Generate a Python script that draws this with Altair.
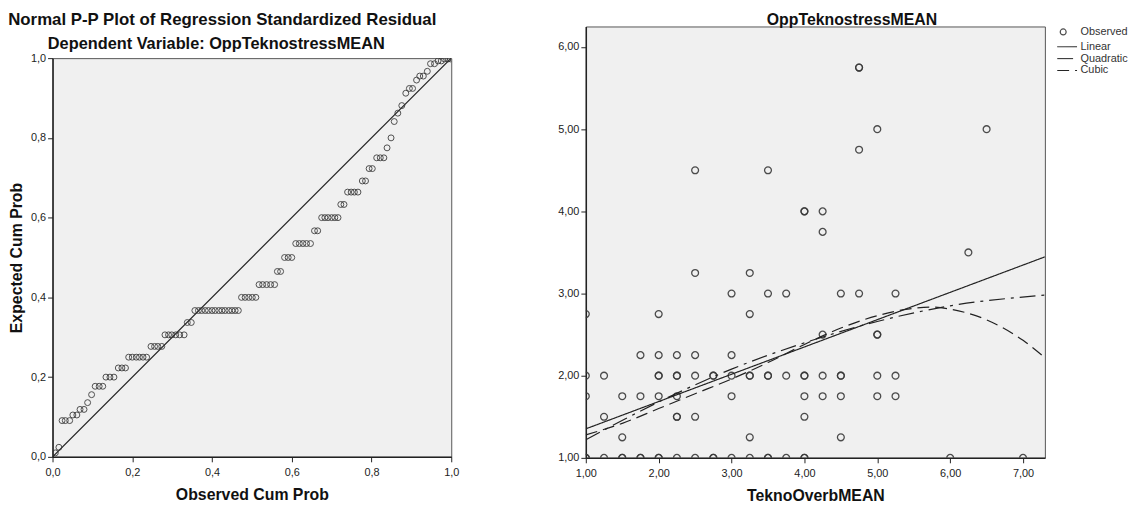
import altair as alt
import pandas as pd

FONT = "Liberation Sans"

# ---------------- Left panel: Normal P-P plot ----------------
pp_observed = [
    0.007, 0.016,
    0.024, 0.032, 0.043,
    0.051, 0.061,
    0.069, 0.079,
    0.088, 0.098,
    0.107, 0.117, 0.126,
    0.134, 0.144, 0.154,
    0.165, 0.174, 0.183,
    0.191, 0.200, 0.210, 0.218, 0.227, 0.236,
    0.247, 0.256, 0.264, 0.274,
    0.282, 0.291, 0.299, 0.309, 0.319, 0.330,
    0.338, 0.348,
    0.357, 0.366, 0.374, 0.383, 0.391, 0.400, 0.408, 0.417, 0.425, 0.433, 0.442, 0.450, 0.458, 0.466,
    0.474, 0.483, 0.492, 0.501, 0.510,
    0.518, 0.527, 0.537, 0.547, 0.557,
    0.564, 0.572,
    0.582, 0.591, 0.600,
    0.610, 0.619, 0.628, 0.637, 0.647,
    0.657, 0.665,
    0.675, 0.683, 0.691, 0.700, 0.708, 0.716,
    0.723, 0.731,
    0.740, 0.749, 0.757, 0.766,
    0.777, 0.785,
    0.794, 0.802,
    0.813, 0.822, 0.831,
    0.839, 0.849, 0.857, 0.866, 0.876, 0.886,
    0.895, 0.903,
    0.913,
    0.921, 0.930,
    0.940,
    0.948, 0.958,
    0.967, 0.975,
    0.983, 0.992, 0.998,
]
pp_expected = [
    0.010, 0.024,
    0.091, 0.091, 0.091,
    0.105, 0.105,
    0.119, 0.119,
    0.136, 0.156,
    0.177, 0.177, 0.177,
    0.200, 0.200, 0.200,
    0.223, 0.223, 0.223,
    0.250, 0.250, 0.250, 0.250, 0.250, 0.250,
    0.277, 0.277, 0.277, 0.277,
    0.306, 0.306, 0.306, 0.306, 0.306, 0.306,
    0.337, 0.337,
    0.367, 0.367, 0.367, 0.367, 0.367, 0.367, 0.367, 0.367, 0.367, 0.367, 0.367, 0.367, 0.367, 0.367,
    0.400, 0.400, 0.400, 0.400, 0.400,
    0.432, 0.432, 0.432, 0.432, 0.432,
    0.465, 0.465,
    0.500, 0.500, 0.500,
    0.535, 0.535, 0.535, 0.535, 0.535,
    0.567, 0.567,
    0.600, 0.600, 0.600, 0.600, 0.600, 0.600,
    0.633, 0.633,
    0.664, 0.664, 0.664, 0.664,
    0.692, 0.692,
    0.723, 0.723,
    0.750, 0.750, 0.750,
    0.775, 0.800, 0.841, 0.862, 0.881, 0.912,
    0.924, 0.924,
    0.945,
    0.955, 0.955,
    0.967,
    0.986, 0.986,
    0.993, 0.993,
    0.998, 0.998, 0.998,
]
diag_x = [0.0, 1.0]
diag_y = [0.0, 1.0]
pp_ticks = [0.0, 0.2, 0.4, 0.6, 0.8, 1.0]

# ---------------- Right panel: curve estimation ----------------
obs_x = (
    [1.0, 1.0, 1.25, 1.5, 1.5, 1.75, 1.75, 2.0, 2.0, 2.25, 2.5, 2.75, 2.75, 3.0, 3.25, 3.5, 3.5, 3.75, 4.0, 4.0, 6.0, 7.0]
    + [1.5, 3.25, 4.5]
    + [1.25, 2.25, 2.25, 2.5, 4.0]
    + [1.0, 1.5, 1.75, 2.0, 2.25, 3.0, 4.0, 4.25, 4.5, 5.0, 5.25]
    + [1.0, 1.25, 2.0, 2.0, 2.25, 2.25, 2.5, 2.75, 2.75, 3.0, 3.25, 3.25, 3.5, 3.5, 3.75, 4.0, 4.0, 4.25, 4.5, 4.5, 5.0, 5.25]
    + [1.75, 2.0, 2.25, 2.5, 3.0]
    + [4.25, 5.0, 5.0]
    + [1.0, 2.0, 3.25]
    + [3.0, 3.5, 3.75, 4.5, 4.75, 5.25]
    + [2.5, 3.25]
    + [6.25]
    + [4.25]
    + [4.0, 4.0, 4.25]
    + [2.5, 3.5]
    + [4.75]
    + [5.0, 6.5]
    + [4.75, 4.75]
)
obs_y = (
    [1.0] * 22 + [1.25] * 3 + [1.5] * 5 + [1.75] * 11 + [2.0] * 22 + [2.25] * 5
    + [2.5] * 3 + [2.75] * 3 + [3.0] * 6 + [3.25] * 2 + [3.5] * 1 + [3.75] * 1
    + [4.0] * 3 + [4.5] * 2 + [4.75] * 1 + [5.0] * 2 + [5.75] * 2
)

lin_x = [1.0, 7.3]
lin_y = [1.353, 3.446]
quad_x = [1.0, 2.0, 3.0, 4.0, 5.0, 6.0, 7.3]
quad_y = [1.22, 1.68, 2.08, 2.40, 2.66, 2.85, 2.98]
cub_x = [1.0, 1.5, 2.0, 2.5, 3.0, 3.5, 4.0, 4.5, 5.0, 5.5, 5.75, 6.0, 6.5, 7.0, 7.3]
cub_y = [1.28, 1.42, 1.60, 1.78, 1.96, 2.16, 2.38, 2.58, 2.73, 2.82, 2.835, 2.81, 2.68, 2.43, 2.22]
x_ticks = [1, 2, 3, 4, 5, 6, 7]
y_ticks = [1, 2, 3, 4, 5, 6]
spacer_v = [0]

# ---------------- build tables ----------------
df_pp = pd.DataFrame({"obs": pp_observed, "exp": pp_expected})
df_diag = pd.DataFrame({"obs": diag_x, "exp": diag_y})
df_sc = pd.DataFrame({"x": obs_x, "y": obs_y, "series": "Observed"})
df_fit = pd.concat([
    pd.DataFrame({"x": lin_x, "y": lin_y, "fit": "Linear"}),
    pd.DataFrame({"x": quad_x, "y": quad_y, "fit": "Quadratic"}),
    pd.DataFrame({"x": cub_x, "y": cub_y, "fit": "Cubic"}),
])

lab1 = "replace(format(datum.value, '.1f'), '.', ',')"
lab2 = "replace(format(datum.value, '.2f'), '.', ',')"

xl = alt.X("obs:Q", scale=alt.Scale(domain=[0, 1], nice=False, zero=False),
           axis=alt.Axis(values=pp_ticks, labelExpr=lab1, title="Observed Cum Prob",
                         labelPadding=5, titlePadding=9, labelFlush=False))
yl = alt.Y("exp:Q", scale=alt.Scale(domain=[0, 1], nice=False, zero=False),
           axis=alt.Axis(values=pp_ticks, labelExpr=lab1, title="Expected Cum Prob",
                         labelPadding=2, titlePadding=6, labelFlush=False))

left_line = alt.Chart(df_diag).mark_line(color="#222", strokeWidth=1.2, clip=True).encode(x=xl, y=yl)
left_pts = alt.Chart(df_pp).mark_point(filled=False, size=36, color="#333", strokeWidth=1,
                                       opacity=0.85, clip=True).encode(x=xl, y=yl)
left_plot = alt.layer(left_line, left_pts).properties(
    width=403, height=403,
    title=alt.TitleParams("Dependent Variable: OppTeknostressMEAN", anchor="middle", dx=-36,
                          fontSize=16.5, fontWeight="bold", font=FONT, offset=0, color="#111"),
)
spacer = alt.Chart(pd.DataFrame({"s": spacer_v})).mark_point(opacity=0).encode(
    x=alt.X("s:Q", axis=None), y=alt.Y("s:Q", axis=None)
).properties(width=403, height=8,
             view=alt.ViewBackground(fill="transparent", stroke="transparent"))

left_group = alt.vconcat(spacer, left_plot, spacing=0).properties(
    title=alt.TitleParams("Normal P-P Plot of Regression Standardized Residual", anchor="start",
                          fontSize=17, fontWeight="bold", font=FONT, offset=-3, color="#111")
)

xr = alt.X("x:Q", scale=alt.Scale(domain=[1, 7.3], nice=False, zero=False),
           axis=alt.Axis(values=x_ticks, labelExpr=lab2, title="TeknoOverbMEAN",
                         labelPadding=5, titlePadding=9, labelFlush=False))
yr = alt.Y("y:Q", scale=alt.Scale(domain=[1, 6.25], nice=False, zero=False),
           axis=alt.Axis(values=y_ticks, labelExpr=lab2, title=None, labelPadding=2,
                         labelFlush=False))

right_lines = alt.Chart(df_fit).mark_line(color="#222", strokeWidth=1.2, interpolate="monotone",
                                          clip=True).encode(
    x=xr, y=yr,
    strokeDash=alt.StrokeDash(
        "fit:N",
        scale=alt.Scale(domain=["Linear", "Quadratic", "Cubic"],
                        range=[[1, 0], [16, 6, 3, 6], [12, 6]]),
        legend=alt.Legend(title=None, symbolType="M-2,0H2", symbolSize=100,
                          symbolStrokeColor="#222", symbolStrokeWidth=1, rowPadding=0,
                          padding=-4, labelOffset=8, symbolOffset=9, orient="right", offset=11),
    ),
)
right_pts = alt.Chart(df_sc).mark_point(filled=False, size=48, strokeWidth=1.3,
                                        opacity=0.9, clip=True).encode(
    x=xr, y=yr,
    color=alt.Color(
        "series:N",
        scale=alt.Scale(domain=["Observed"], range=["#3a3a3a"]),
        legend=alt.Legend(title=None, symbolType="circle", symbolSize=36,
                          symbolStrokeWidth=1.2, symbolOffset=1, labelOffset=12,
                          orient="right", offset=11),
    ),
)
right = alt.layer(right_pts, right_lines).properties(
    width=464, height=436,
    title=alt.TitleParams("OppTeknostressMEAN", anchor="middle", dx=37, fontSize=16,
                          fontWeight="bold", font=FONT, offset=-2, color="#111"),
)

chart = alt.hconcat(left_group, right, spacing=98).properties(
    padding={"left": 0, "top": 0, "right": 0, "bottom": 0}
).configure_view(
    fill="#F0F0F0", stroke="#555", strokeWidth=1
).configure_axis(
    grid=False, domainColor="#222", domainWidth=1.5, tickColor="#222", tickSize=5,
    labelFont=FONT, labelFontSize=11, labelColor="#222",
    titleFont=FONT, titleFontSize=16, titleFontWeight="bold", titleColor="#111",
).configure_legend(
    labelFont=FONT, labelFontSize=11, labelColor="#333", padding=0,
)

chart.save("out.html", embed_options={"renderer": "svg", "actions": False})
